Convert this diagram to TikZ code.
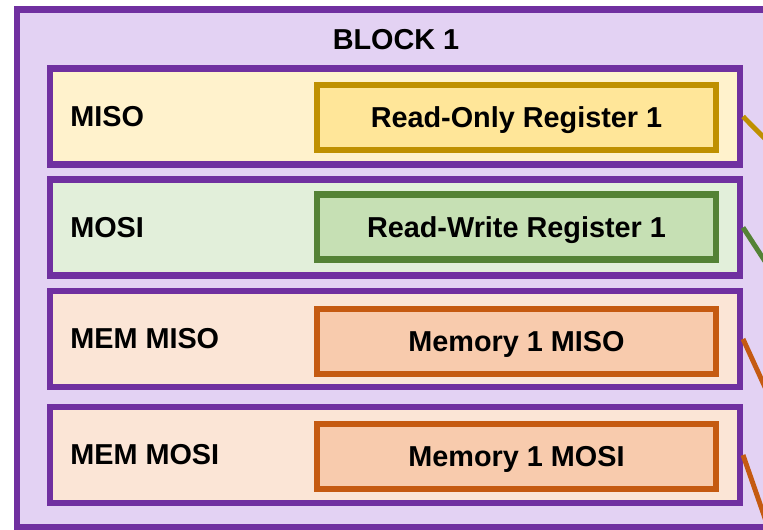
\documentclass[tikz,border=0pt]{standalone}
\usepackage{fontspec}
\setmainfont{Liberation Sans}
\usepackage{xcolor}
\definecolor{blockpurple}{RGB}{112, 48, 160}
\definecolor{blockfill}{RGB}{227, 210, 243}
\definecolor{misofill}{RGB}{255, 242, 204}
\definecolor{misoinner}{RGB}{255, 230, 153}
\definecolor{misoline}{RGB}{191, 144, 0}
\definecolor{mosifill}{RGB}{226, 239, 218}
\definecolor{mosiinner}{RGB}{198, 224, 180}
\definecolor{mosiline}{RGB}{84, 130, 53}
\definecolor{memfill}{RGB}{251, 229, 214}
\definecolor{meminner}{RGB}{248, 203, 173}
\definecolor{memline}{RGB}{197, 90, 17}
\usetikzlibrary{positioning, calc}

\begin{document}
\begin{tikzpicture}[
    port/.style={rectangle, draw=blockpurple, line width=4.3pt, minimum width=17.25cm, minimum height=2.4cm},
    regbox/.style={rectangle, line width=4.3pt, minimum width=9.975cm, minimum height=1.625cm, text depth=0pt, font=\fontsize{20.5}{24}\selectfont\bfseries},
    portlabel/.style={anchor=west, inner sep=0pt, font=\fontsize{20.5}{24}\selectfont\bfseries},
    wire/.style={line width=3.5pt}
  ]
    \clip (0, 0) rectangle (19.075, 13.25);

    % outer block, runs on past the right edge
    \draw[draw=blockpurple, fill=blockfill, line width=4.3pt] (0.425, 0.0625) rectangle (21, 13.0125);
    \node[font=\fontsize{20.5}{24}\selectfont\bfseries] (blocktitle) at (9.9, 12.25) {BLOCK 1};

    % ports
    \node[port, fill=misofill] (miso) at (9.875, 10.3375) {};
    \node[port, fill=mosifill] (mosi) at (9.875, 7.5625) {};
    \node[port, fill=memfill] (memmiso) at (9.875, 4.775) {};
    \node[port, fill=memfill] (memmosi) at (9.875, 1.875) {};

    \node[portlabel] (misolabel) at (1.75, 10.3375) {MISO};
    \node[portlabel] (mosilabel) at (1.75, 7.5625) {MOSI};
    \node[portlabel] (memmisolabel) at (1.75, 4.775) {MEM MISO};
    \node[portlabel] (memmosilabel) at (1.75, 1.875) {MEM MOSI};

    % registers and memories
    \node[regbox, fill=misoinner, draw=misoline] (roreg) at (12.9125, 10.3125) {Read-Only Register 1};
    \node[regbox, fill=mosiinner, draw=mosiline] (rwreg) at (12.9125, 7.575) {Read-Write Register 1};
    \node[regbox, fill=meminner, draw=memline] (memmisobox) at (12.9125, 4.7125) {Memory 1 MISO};
    \node[regbox, fill=meminner, draw=memline] (memmosibox) at (12.9125, 1.8375) {Memory 1 MOSI};

    % wires leaving the block
    \coordinate (misoend) at (20, 8.9);
    \coordinate (mosiend) at (20, 5.375);
    \coordinate (memmisoend) at (20, 1.65);
    \coordinate (memmosiend) at (20, -2.225);
    \draw[wire, misoline] (miso.east) -- (misoend);
    \draw[wire, mosiline] (mosi.east) -- (mosiend);
    \draw[wire, memline] (memmiso.east) -- (memmisoend);
    \draw[wire, memline] (memmosi.east) -- (memmosiend);
  \end{tikzpicture}
\end{document}
